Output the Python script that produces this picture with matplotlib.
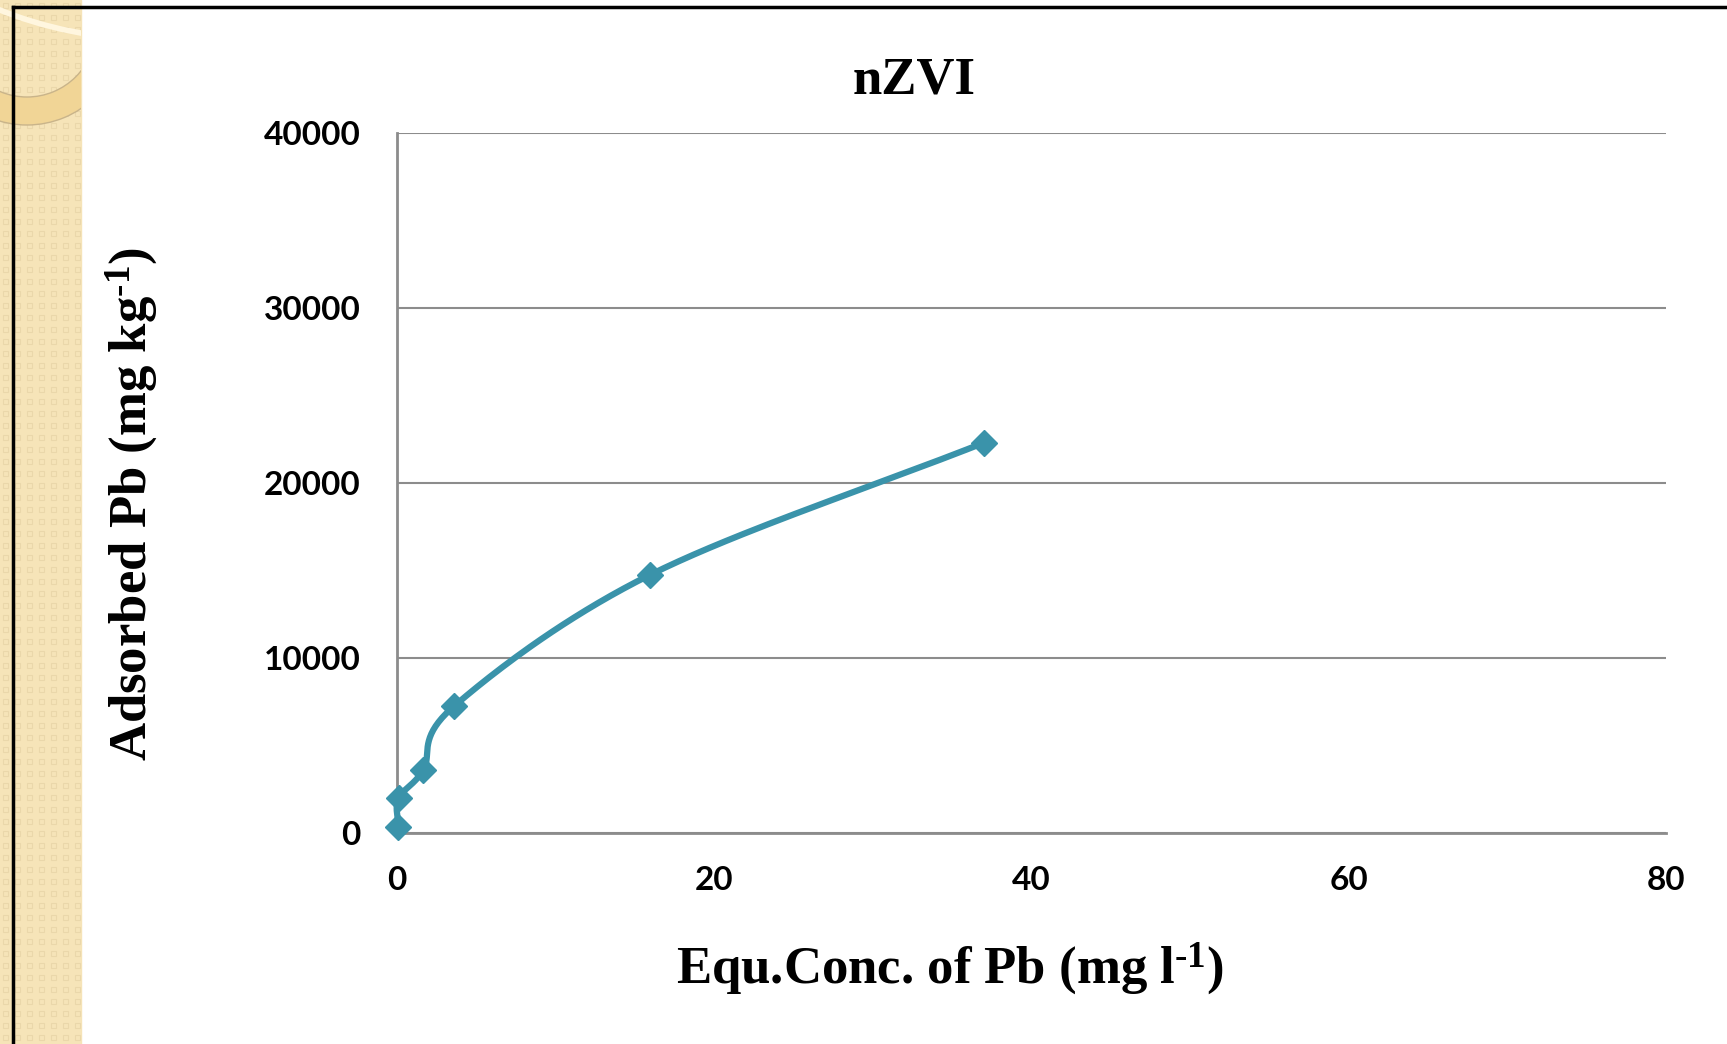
import numpy as np
import matplotlib
matplotlib.use("Agg")
import matplotlib.pyplot as plt
from matplotlib.patches import Rectangle, Arc
from matplotlib.lines import Line2D

plt.rcParams["mathtext.fontset"] = "custom"
plt.rcParams["mathtext.rm"] = "Liberation Serif:bold"
plt.rcParams["mathtext.bf"] = "Liberation Serif:bold"
plt.rcParams["mathtext.it"] = "Liberation Serif:bold"

# ---- data ----
conc = [0.08, 0.1, 1.66, 3.6, 15.95, 37.0]
adsorbed = [360, 1980, 3600, 7250, 14750, 22300]
x_ticks = [0, 20, 40, 60, 80]
y_ticks = [0, 10000, 20000, 30000, 40000]
title = "nZVI"
xlabel = r"Equ.Conc. of Pb (mg l$^{\text{-1}}$)"
ylabel = r"Adsorbed Pb (mg kg$^{\text{-1}}$)"

W, H = 1727, 1044
fig = plt.figure(figsize=(W / 100, H / 100), dpi=100)
fig.patch.set_facecolor("white")

# decorative left strip
bg = fig.add_axes([0, 0, 1, 1], zorder=-5)
bg.set_xlim(0, W); bg.set_ylim(H, 0); bg.axis("off")
bg.add_patch(Rectangle((0, 0), 81, H, color="#F6E4B8", zorder=0))
for yy in np.arange(0, H, 12):
    for xx in np.arange(0, 81, 12):
        bg.add_patch(Rectangle((xx + 3, yy + 3), 5, 5, fill=False, ec="#EAD7AA", lw=0.8, zorder=1))
clip = Rectangle((0, 0), 81, H, transform=bg.transData)
a1 = Arc((150, -364), 806, 806, theta1=0, theta2=360, color="#FFF6DF", lw=4, zorder=2)
a2 = Arc((27, 28), 166, 166, theta1=0, theta2=360, color="#F1D596", lw=20, zorder=2)
a3 = Arc((27, 28), 138, 138, theta1=0, theta2=360, color="#C9B48A", lw=1, zorder=3)
a4 = Arc((27, 28), 194, 194, theta1=0, theta2=360, color="#C9B48A", lw=1, zorder=3)
for a in (a1, a2, a3, a4):
    bg.add_patch(a); a.set_clip_path(clip)
bg.add_line(Line2D([13, 13], [7, H], color="black", lw=2.5, zorder=4))
bg.add_line(Line2D([13, W], [7, 7], color="black", lw=2.5, zorder=4))

# main axes
L, R, T, B = 397, 1666, 133, 833
ax = fig.add_axes([L / W, 1 - B / H, (R - L) / W, (B - T) / H])
ax.set_xlim(0, 80)
ax.set_ylim(0, 40000)
tickfont = dict(fontfamily="Lato", fontweight="bold", fontsize=24)
ax.set_xticks(x_ticks, labels=[str(v) for v in x_ticks], **tickfont)
ax.set_yticks(y_ticks, labels=[str(v) for v in y_ticks], **tickfont)
ax.tick_params(length=0)
ax.tick_params(axis="y", pad=26)
ax.tick_params(axis="x", pad=24)
ax.grid(axis="y", color="#8c8c8c", lw=1.5)
ax.set_axisbelow(True)
for s in ("top", "right"):
    ax.spines[s].set_visible(False)
for s in ("left", "bottom"):
    ax.spines[s].set_color("#8c8c8c"); ax.spines[s].set_linewidth(2)

# smooth curve (Catmull-Rom in axes-normalized space)
px = np.array(conc) / 80.0
py = np.array(adsorbed) / 40000.0 * (B - T) / (R - L)
P = np.column_stack([px, py])
Pe = np.vstack([P[0] - (P[1] - P[0]), P, P[-1] + (P[-1] - P[-2])])
pts = []
for i in range(1, len(Pe) - 2):
    p0, p1, p2, p3 = Pe[i - 1], Pe[i], Pe[i + 1], Pe[i + 2]
    t = np.linspace(0, 1, 40)[:, None]
    seg = 0.5 * ((2 * p1) + (-p0 + p2) * t + (2 * p0 - 5 * p1 + 4 * p2 - p3) * t**2
                 + (-p0 + 3 * p1 - 3 * p2 + p3) * t**3)
    pts.append(seg)
S = np.vstack(pts)
sx = S[:, 0] * 80.0
sy = S[:, 1] * (R - L) / (B - T) * 40000.0
col = "#3A93AA"
ax.plot(sx, sy, color=col, lw=4.5, solid_capstyle="round", zorder=3, clip_on=False)
ax.plot(conc, adsorbed, ls="none", marker="D", ms=13, color=col, zorder=4, clip_on=False)

fig.text(914 / W, 1 - 80 / H, title, ha="center", va="center",
         fontfamily="Liberation Serif", fontweight="bold", fontsize=38)
fig.text(132 / W, 1 - 504 / H, ylabel, ha="center", va="center",
         rotation=90, fontfamily="Liberation Serif", fontweight="bold", fontsize=38)
fig.text(950 / W, 1 - 969 / H, xlabel, ha="center", va="center",
         fontfamily="Liberation Serif", fontweight="bold", fontsize=38)
fig.savefig("out.png", dpi=100)
